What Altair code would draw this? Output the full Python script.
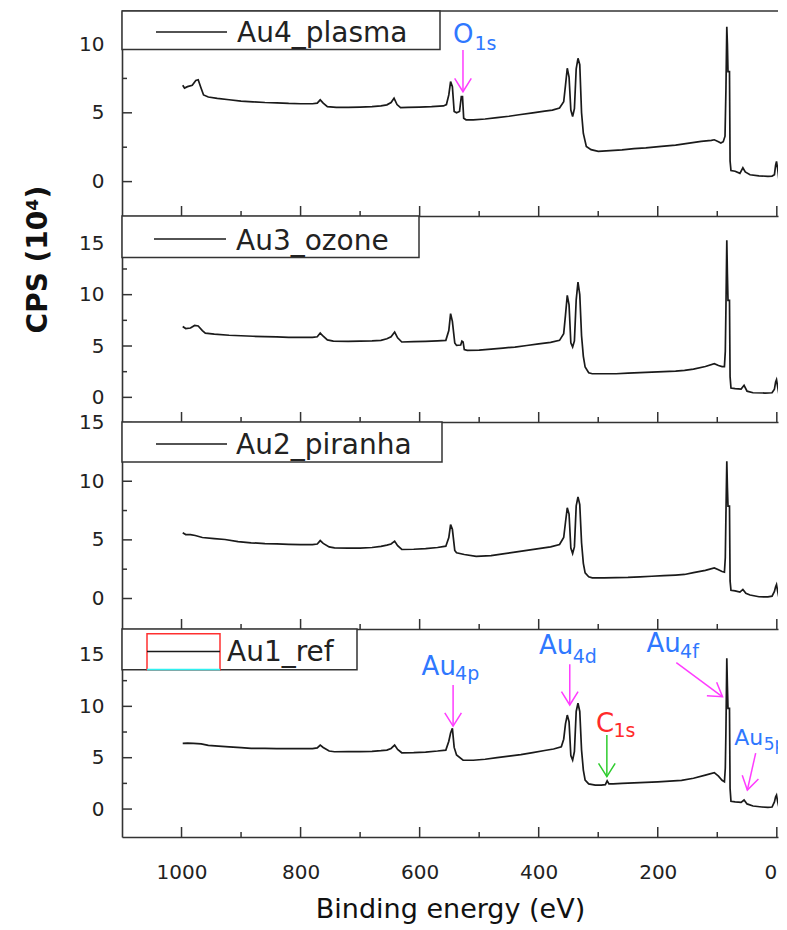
import altair as alt
import pandas as pd

# ---------------- data ----------------
names = ["Au4_plasma", "Au3_ozone", "Au2_piranha", "Au1_ref"]

plasma_be = [998, 995, 990, 982, 976, 972, 968, 963, 955, 940, 920, 900, 880, 860, 840, 820, 800, 780, 772, 767, 762, 755, 740, 720, 700, 680, 665, 655, 648, 643, 638, 632, 620, 600, 580, 560, 555, 551, 548, 545, 542, 538, 533, 530, 528, 526, 522, 510, 490, 470, 450, 433, 410, 390, 377, 365, 358, 355, 352, 349, 346, 343, 340, 337, 334, 331, 328, 325, 320, 312, 300, 280, 260, 240, 220, 194, 170, 150, 127, 110, 105, 98, 94, 90, 87, 85.5, 84, 83, 82, 79.5, 78.5, 77, 70, 62, 57, 53, 45, 30, 15, 8, 4, 2, 0.5, -1.5, -3.5, -5]
plasma_cps = [7.0, 6.8, 6.9, 7.0, 7.35, 7.4, 6.9, 6.3, 6.15, 6.05, 5.95, 5.85, 5.8, 5.75, 5.72, 5.68, 5.66, 5.66, 5.7, 5.94, 5.7, 5.45, 5.4, 5.4, 5.42, 5.45, 5.5, 5.58, 5.75, 6.06, 5.6, 5.38, 5.4, 5.42, 5.45, 5.5, 5.6, 6.3, 7.27, 6.9, 5.1, 5.0, 5.1, 6.18, 6.18, 4.6, 4.49, 4.49, 4.55, 4.65, 4.75, 4.86, 5.0, 5.12, 5.2, 5.35, 5.8, 7.0, 8.24, 7.6, 5.2, 4.73, 5.3, 8.2, 8.96, 8.5, 5.0, 3.5, 2.56, 2.32, 2.2, 2.25, 2.3, 2.4, 2.45, 2.56, 2.65, 2.78, 2.92, 3.0, 3.04, 2.9, 2.8, 2.9, 3.3, 6.6, 11.25, 10.0, 8.0, 8.0, 1.5, 0.8, 0.75, 0.6, 1.0, 0.7, 0.5, 0.42, 0.38, 0.4, 0.5, 1.2, 1.47, 0.9, 0.15, 0.1]

ozone_be = [998, 993, 985, 978, 972, 965, 960, 945, 920, 900, 880, 860, 840, 820, 800, 780, 772, 767, 762, 755, 745, 720, 700, 680, 665, 655, 648, 642, 637, 630, 610, 590, 570, 556, 551, 548, 545, 541, 538, 531, 529, 527, 525, 520, 500, 480, 460, 440, 420, 400, 380, 365, 358, 355, 352, 349, 346, 343, 340, 337, 334, 331, 328, 325, 322, 316, 310, 290, 270, 250, 230, 210, 190, 170, 155, 140, 120, 105, 98, 92, 88, 86.5, 85.5, 84, 83, 82, 79.5, 78.5, 77, 70, 60, 55, 50, 40, 20, 8, 4, 2, 0.5, -1.5, -3.5, -5]
ozone_cps = [6.9, 6.7, 6.75, 7.0, 6.95, 6.5, 6.26, 6.15, 6.05, 6.0, 5.95, 5.92, 5.88, 5.85, 5.85, 5.85, 5.9, 6.26, 5.95, 5.6, 5.48, 5.45, 5.48, 5.5, 5.55, 5.7, 5.9, 6.36, 5.8, 5.39, 5.42, 5.45, 5.5, 5.55, 6.5, 8.15, 7.4, 5.3, 5.06, 5.1, 5.48, 5.4, 4.65, 4.58, 4.6, 4.7, 4.8, 4.9, 5.05, 5.2, 5.35, 5.55, 6.2, 8.0, 9.93, 9.0, 5.3, 4.9, 5.5, 9.5, 11.23, 10.0, 6.0, 4.0, 2.95, 2.4, 2.3, 2.3, 2.3, 2.35, 2.4, 2.45, 2.5, 2.55, 2.63, 2.75, 3.0, 3.28, 3.1, 3.0, 3.0, 4.5, 8.5, 15.3, 12.0, 9.45, 9.45, 2.0, 0.9, 0.85, 0.8, 1.17, 0.6, 0.45, 0.42, 0.45, 0.8, 1.5, 1.72, 1.0, 0.3, 0.2]

piranha_be = [998, 993, 985, 977, 965, 945, 927, 905, 883, 860, 840, 820, 800, 780, 772, 767, 762, 752, 743, 720, 700, 680, 665, 655, 648, 642, 637, 630, 610, 590, 570, 556, 551, 548, 545, 541, 538, 525, 505, 480, 460, 440, 420, 400, 380, 365, 358, 355, 352, 349, 346, 343, 340, 337, 334, 331, 328, 325, 322, 316, 310, 290, 270, 250, 230, 210, 190, 170, 155, 140, 120, 105, 98, 92, 88, 86.5, 85.5, 84, 83, 82, 79.5, 78.5, 77, 70, 62, 57, 52, 45, 30, 15, 8, 4, 2, 0.5, -1.5, -3.5, -5]
piranha_cps = [5.6, 5.45, 5.45, 5.37, 5.2, 5.1, 5.03, 4.85, 4.75, 4.68, 4.65, 4.62, 4.6, 4.6, 4.65, 4.94, 4.7, 4.4, 4.32, 4.3, 4.3, 4.35, 4.45, 4.55, 4.65, 4.89, 4.5, 4.18, 4.2, 4.25, 4.35, 4.46, 5.2, 6.3, 5.9, 4.1, 3.9, 3.75, 3.6, 3.65, 3.8, 3.95, 4.1, 4.25, 4.4, 4.6, 5.2, 6.5, 7.73, 7.2, 4.3, 3.84, 4.4, 7.9, 8.67, 8.0, 4.75, 3.0, 2.19, 1.85, 1.76, 1.76, 1.78, 1.8, 1.85, 1.9, 1.95, 2.0, 2.05, 2.2, 2.4, 2.6, 2.45, 2.3, 2.25, 3.5, 7.0, 11.7, 9.5, 7.87, 7.87, 1.5, 0.7, 0.65, 0.55, 0.77, 0.45, 0.3, 0.15, 0.14, 0.2, 0.6, 1.0, 1.19, 0.6, 0.1, 0.05]

ref_be = [998, 990, 980, 967, 955, 938, 920, 900, 883, 860, 840, 820, 800, 780, 772, 767, 762, 752, 743, 720, 700, 680, 665, 655, 648, 642, 637, 630, 610, 590, 570, 556, 551, 548, 545, 542, 538, 527, 510, 490, 470, 450, 430, 410, 390, 375, 362, 358, 355, 352, 349, 346, 343, 340, 337, 334, 331, 328, 325, 322, 316, 305, 295, 288, 285, 282, 275, 260, 240, 220, 200, 180, 160, 140, 120, 105, 98, 92, 88, 86.5, 85.5, 84, 83, 82, 79.5, 78.5, 77, 70, 60, 55, 50, 40, 25, 15, 8, 4, 2, 0.5, -1.5, -3.5, -5]
ref_cps = [6.4, 6.42, 6.4, 6.35, 6.2, 6.13, 6.05, 5.98, 5.9, 5.9, 5.88, 5.88, 5.88, 5.88, 5.95, 6.23, 6.0, 5.65, 5.58, 5.6, 5.6, 5.62, 5.68, 5.74, 5.9, 6.23, 5.8, 5.48, 5.5, 5.55, 5.65, 5.74, 6.6, 7.4, 7.85, 6.0, 5.26, 4.77, 4.75, 4.85, 5.0, 5.15, 5.3, 5.5, 5.7, 5.85, 6.07, 6.8, 8.3, 9.15, 8.5, 5.2, 4.77, 5.6, 9.5, 10.3, 9.5, 5.74, 3.8, 2.82, 2.45, 2.34, 2.34, 2.38, 2.75, 2.45, 2.45, 2.5, 2.55, 2.6, 2.65, 2.72, 2.8, 3.0, 3.3, 3.54, 3.2, 2.8, 2.66, 4.0, 7.5, 14.67, 12.0, 9.8, 9.8, 2.0, 0.75, 0.7, 0.65, 0.88, 0.5, 0.3, 0.2, 0.16, 0.2, 0.7, 1.2, 1.36, 0.7, 0.2, 0.1]

spectra = [(plasma_be, plasma_cps), (ozone_be, ozone_cps), (piranha_be, piranha_cps), (ref_be, ref_cps)]

x_major = [1000, 800, 600, 400, 200, 0]
x_minor = [900, 700, 500, 300, 100]
y_major = [[0, 5, 10], [0, 5, 10, 15], [0, 5, 10, 15], [0, 5, 10, 15]]
y_minor = [[2.5, 7.5], [2.5, 7.5, 12.5], [2.5, 7.5, 12.5], [2.5, 7.5, 12.5]]
y_domains = [[-2.5, 12.4], [-2.4, 17.66], [-2.6, 15.05], [-2.72, 17.53]]
x_domain = [1100, -2]

# peak labels (panel 1 and panel 4)
p1_main_text = ["O"]
p1_main_be = [543.8]
p1_main_cps = [10.05]
p1_sub_text = ["1s"]
p1_sub_be = [508.0]
p1_sub_cps = [9.56]
p1_arrow_be = [527.2]
p1_arrow_cps = [9.56]
p1_arrow_be2 = [527.2]
p1_arrow_cps2 = [6.53]
p1_arrow_angle = [0]

p4_main_text = ["Au", "Au", "C", "Au", "Au"]
p4_main_be = [596.7, 399.5, 303.8, 218.8, 71.7]
p4_main_cps = [13.05, 15.06, 7.5, 15.32, 6.23]
p4_sub_text = ["4p", "4d", "1s", "4f", "5p"]
p4_sub_be = [540.5, 343.0, 274.5, 162.5, 22.0]
p4_sub_cps = [12.56, 14.19, 7.04, 14.67, 5.74]
p4_arrow_be = [543.8, 347.8, 285.5, 168.8, 35.5]
p4_arrow_cps = [12.07, 14.09, 7.2, 14.25, 5.45]
p4_arrow_be2 = [543.8, 347.8, 285.5, 91.2, 49.5]
p4_arrow_cps2 = [8.08, 10.13, 3.15, 10.93, 1.85]
p4_arrow_angle = [0, 0, 0, 306, 13]

# ---------------- styles / layout ----------------
BLUE = "#2f78ff"
RED = "#ff2a2a"
MAGENTA = "#ff3cff"
GREEN = "#2ecc2e"
INK = "#1a1a1a"
FONT = "DejaVu Sans"
W = 656
heights = [205, 206, 207, 208]
legend_layout = [
    dict(w=318, h=38.5, lx1=34, lx2=105, ly=21, tx=115, ty=31),
    dict(w=297, h=41.6, lx1=32, lx2=104, ly=23, tx=114, ty=34),
    dict(w=320, h=40, lx1=34, lx2=105, ly=22, tx=114, ty=31.6),
    dict(w=235, h=40.7, lx1=25, lx2=98, ly=22.4, tx=105, ty=32.4),
]
p1_colors = dict(main=[BLUE], arrow=[MAGENTA])
p4_colors = dict(main=[BLUE, BLUE, RED, BLUE, BLUE], arrow=[MAGENTA, MAGENTA, GREEN, MAGENTA, MAGENTA])
p4_main_size = [26, 26, 26, 26, 22]
p4_sub_size = [19, 19, 19, 19, 17]
ARROW_HEAD = "M-1,-1.6L0,0L1,-1.6"

one = pd.DataFrame({"k": [0]})


def panel(i):
    H = heights[i]
    be, cps = spectra[i]
    xs = alt.Scale(domain=x_domain, nice=False, zero=False)
    ys = alt.Scale(domain=y_domains[i], nice=False, zero=False)
    bottom = i == 3
    if bottom:
        xaxis = alt.Axis(values=x_major, format="d", ticks=False, tickSize=0, grid=False, domain=True,
                         labelPadding=25, labelFontSize=20, labelFlush=4,
                         title="Binding energy (eV)", titleFontSize=27, titleFontWeight="normal",
                         titleBaseline="alphabetic", titlePadding=35, titleFont=FONT)
    else:
        xaxis = alt.Axis(values=x_major, format="d", labels=False, ticks=False, tickSize=0, grid=False,
                         domain=True, title=None)
    if i == 1:
        yaxis = alt.Axis(values=y_major[i], ticks=False, tickSize=0, grid=False, domain=True,
                         labelPadding=18, labelFontSize=20,
                         title="CPS (10⁴)", titleFontSize=28, titleFontWeight="bold",
                         titleAngle=270, titleX=-76, titleY=43, titleAlign="center",
                         titleBaseline="alphabetic", titleFont=FONT)
    else:
        yaxis = alt.Axis(values=y_major[i], ticks=False, tickSize=0, grid=False, domain=True,
                         labelPadding=18, labelFontSize=20, title=None)

    def X(f):
        return alt.X(f, type="quantitative", scale=xs, axis=xaxis)

    def Y(f):
        return alt.Y(f, type="quantitative", scale=ys, axis=yaxis)

    layers = []
    # spectrum (first, carries both axes)
    layers.append(
        alt.Chart(pd.DataFrame({"be": be, "cps": cps})).mark_line(color=INK, strokeWidth=1.7, clip=True).encode(
            x=X("be"), y=Y("cps")
        )
    )
    # inward ticks
    for vals, ln in ((x_major, 10), (x_minor, 5)):
        layers.append(
            alt.Chart(pd.DataFrame({"be": vals})).mark_rule(color="#333", strokeWidth=1.5).encode(
                x=X("be"), y=alt.value(H), y2=alt.value(H - ln)
            )
        )
    for vals, ln in ((y_major[i], 10), (y_minor[i], 5)):
        layers.append(
            alt.Chart(pd.DataFrame({"cps": vals})).mark_rule(color="#333", strokeWidth=1.5).encode(
                y=Y("cps"), x=alt.value(0), x2=alt.value(ln)
            )
        )
    if i == 0:
        layers.append(
            alt.Chart(one).mark_rule(color="#333", strokeWidth=1.6).encode(
                x=alt.value(0), x2=alt.value(W), y=alt.value(0)
            )
        )
    # legend
    L = legend_layout[i]
    layers.append(
        alt.Chart(one).mark_rect(fill="white", stroke="#333", strokeWidth=1.5).encode(
            x=alt.value(0), x2=alt.value(L["w"]), y=alt.value(0), y2=alt.value(L["h"])
        )
    )
    if i == 3:
        layers.append(
            alt.Chart(one).mark_rect(fill="white", stroke="#ff3030", strokeWidth=1.5).encode(
                x=alt.value(L["lx1"]), x2=alt.value(L["lx2"]), y=alt.value(4.7), y2=alt.value(L["h"])
            )
        )
        layers.append(
            alt.Chart(one).mark_rule(color="#30f0f0", strokeWidth=1.8).encode(
                x=alt.value(L["lx1"]), x2=alt.value(L["lx2"]), y=alt.value(L["h"])
            )
        )
    layers.append(
        alt.Chart(one).mark_rule(color=INK, strokeWidth=1.5).encode(
            x=alt.value(L["lx1"]), x2=alt.value(L["lx2"]), y=alt.value(L["ly"])
        )
    )
    layers.append(
        alt.Chart(one).mark_text(align="left", baseline="alphabetic", font=FONT, fontSize=28, color="#222").encode(
            x=alt.value(L["tx"]), y=alt.value(L["ty"]), text=alt.value(names[i])
        )
    )

    def annotations(main_t, main_x, main_y, main_c, main_s, sub_t, sub_x, sub_y, sub_s,
                    ax, ay, ax2, ay2, ac, aang):
        main_df = pd.DataFrame({"t": main_t, "be": main_x, "cps": main_y, "c": main_c, "s": main_s})
        sub_df = pd.DataFrame({"t": sub_t, "be": sub_x, "cps": sub_y, "c": main_c, "s": sub_s})
        arr_df = pd.DataFrame({"be": ax, "cps": ay, "be2": ax2, "cps2": ay2, "c": ac, "a": aang})
        out = []
        for df in (main_df, sub_df):
            out.append(
                alt.Chart(df).mark_text(align="left", baseline="alphabetic", font=FONT, clip=True).encode(
                    x=X("be"), y=Y("cps"), text="t:N",
                    color=alt.Color("c:N", scale=None),
                    size=alt.Size("s:Q", scale=None),
                )
            )
        out.append(
            alt.Chart(arr_df).mark_rule(strokeWidth=1.5).encode(
                x=X("be"), y=Y("cps"), x2="be2:Q", y2="cps2:Q",
                color=alt.Color("c:N", scale=None),
            )
        )
        out.append(
            alt.Chart(arr_df).mark_point(shape=ARROW_HEAD, filled=False, size=276, strokeWidth=1.5, opacity=1).encode(
                x=X("be2"), y=Y("cps2"),
                color=alt.Color("c:N", scale=None),
                angle=alt.Angle("a:Q", scale=None),
            )
        )
        return out

    if i == 0:
        layers += annotations(p1_main_text, p1_main_be, p1_main_cps, p1_colors["main"], [26],
                              p1_sub_text, p1_sub_be, p1_sub_cps, [19],
                              p1_arrow_be, p1_arrow_cps, p1_arrow_be2, p1_arrow_cps2,
                              p1_colors["arrow"], p1_arrow_angle)
    if i == 3:
        layers += annotations(p4_main_text, p4_main_be, p4_main_cps, p4_colors["main"], p4_main_size,
                              p4_sub_text, p4_sub_be, p4_sub_cps, p4_sub_size,
                              p4_arrow_be, p4_arrow_cps, p4_arrow_be2, p4_arrow_cps2,
                              p4_colors["arrow"], p4_arrow_angle)
    return alt.layer(*layers).properties(width=W, height=H)


chart = (
    alt.vconcat(*[panel(i) for i in range(4)], spacing=0, bounds="flush")
    .properties(padding={"left": 15, "top": 2, "right": 0, "bottom": 7}, background="white")
    .configure_view(strokeWidth=0)
    .configure_axis(labelFont=FONT, labelColor="#222", titleColor="#111", domainColor="#333", domainWidth=1.6)
)

chart.save("out.html", embed_options={"renderer": "svg", "actions": False})
